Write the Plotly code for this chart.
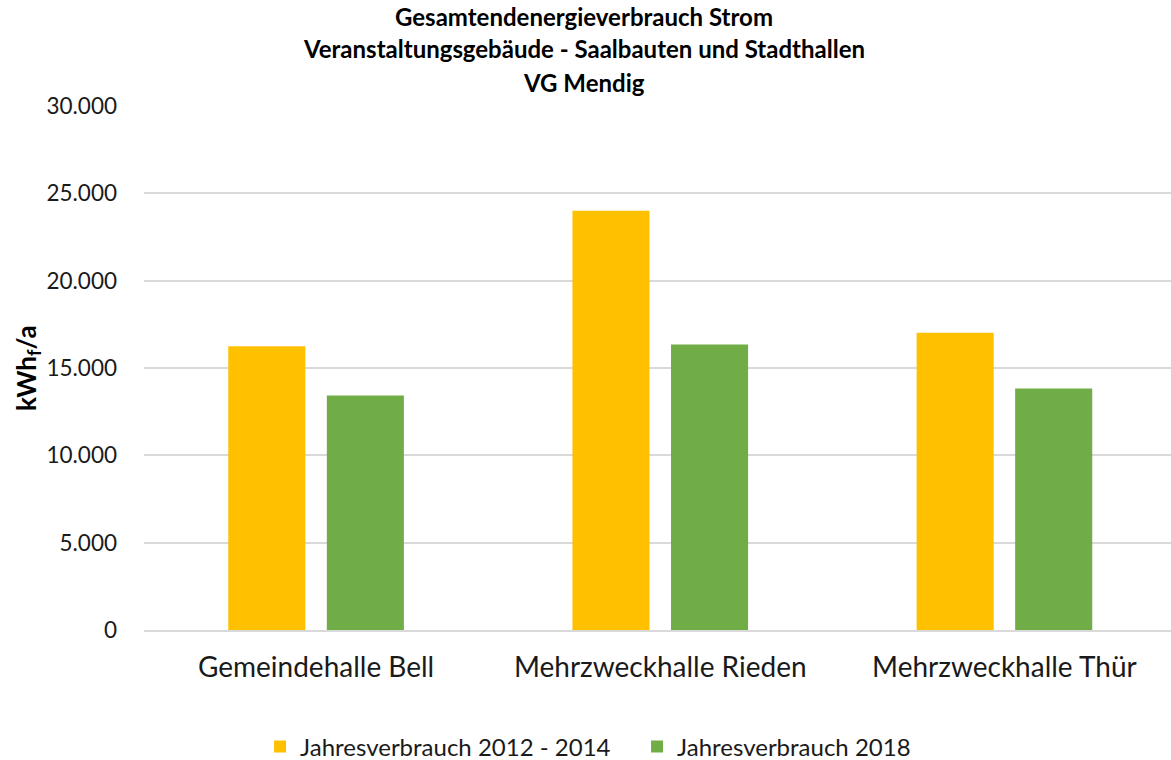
import plotly.graph_objects as go

categories = ["Gemeindehalle Bell", "Mehrzweckhalle Rieden", "Mehrzweckhalle Thür"]
series_names = ["Jahresverbrauch 2012 - 2014", "Jahresverbrauch 2018"]
values_2012_2014 = [16250, 24000, 17020]
values_2018 = [13430, 16350, 13830]
tick_vals = [0, 5000, 10000, 15000, 20000, 25000, 30000]
title_lines = ["Gesamtendenergieverbrauch Strom",
               "Veranstaltungsgebäude - Saalbauten und Stadthallen",
               "VG Mendig"]
y_title = "<b>kWh<sub>f</sub>/a</b>"

FONT = "Lato"
TXT = "#1a1a1a"

fig = go.Figure()
fig.add_trace(go.Bar(x=categories, y=values_2012_2014, name=series_names[0],
                     marker=dict(color="#FFC000", line=dict(width=0))))
fig.add_trace(go.Bar(x=categories, y=values_2018, name=series_names[1],
                     marker=dict(color="#70AD47", line=dict(width=0))))

title_y = [1.170, 1.109, 1.044]
for line, yy in zip(title_lines, title_y):
    fig.add_annotation(text="<b>" + line + "</b>", xref="paper", yref="paper",
                       x=0.4289, y=yy, xanchor="center", yanchor="middle",
                       showarrow=False, font=dict(family=FONT, size=24, color="#000000"))

fig.add_annotation(text=y_title, xref="paper", yref="paper", x=-0.1139, y=0.5,
                   xanchor="center", yanchor="middle", textangle=-90, showarrow=False,
                   font=dict(family=FONT, size=26, color="#000000"))

fig.update_layout(
    width=1171, height=760,
    paper_bgcolor="white", plot_bgcolor="white",
    separators=",.",
    font=dict(family=FONT, color=TXT),
    margin=dict(l=144, r=0, t=106, b=130, autoexpand=False),
    barmode="group", bargap=0.4273, bargroupgap=0.218,
    showlegend=True,
    legend=dict(orientation="h", x=0.113, xanchor="left", y=-0.223, yanchor="middle",
                font=dict(family=FONT, size=24, color=TXT),
                entrywidth=332, entrywidthmode="pixels",
                traceorder="normal"),
    xaxis=dict(range=[-0.5, 2.484], tickfont=dict(family=FONT, size=28, color=TXT),
               showline=True, linecolor="#d9d9d9", linewidth=1.5, ticks="",
               ticklabelstandoff=12),
    yaxis=dict(range=[0, 30000], tickvals=tick_vals, tickformat=",d",
               tickfont=dict(family=FONT, size=22.5, color=TXT),
               showgrid=True, gridcolor="#d9d9d9", gridwidth=1.5,
               zeroline=False, ticks="", ticklabelstandoff=26),
)

fig.write_html("out.html", config={"displayModeBar": False},
               post_script="document.body.style.margin='0px';")
